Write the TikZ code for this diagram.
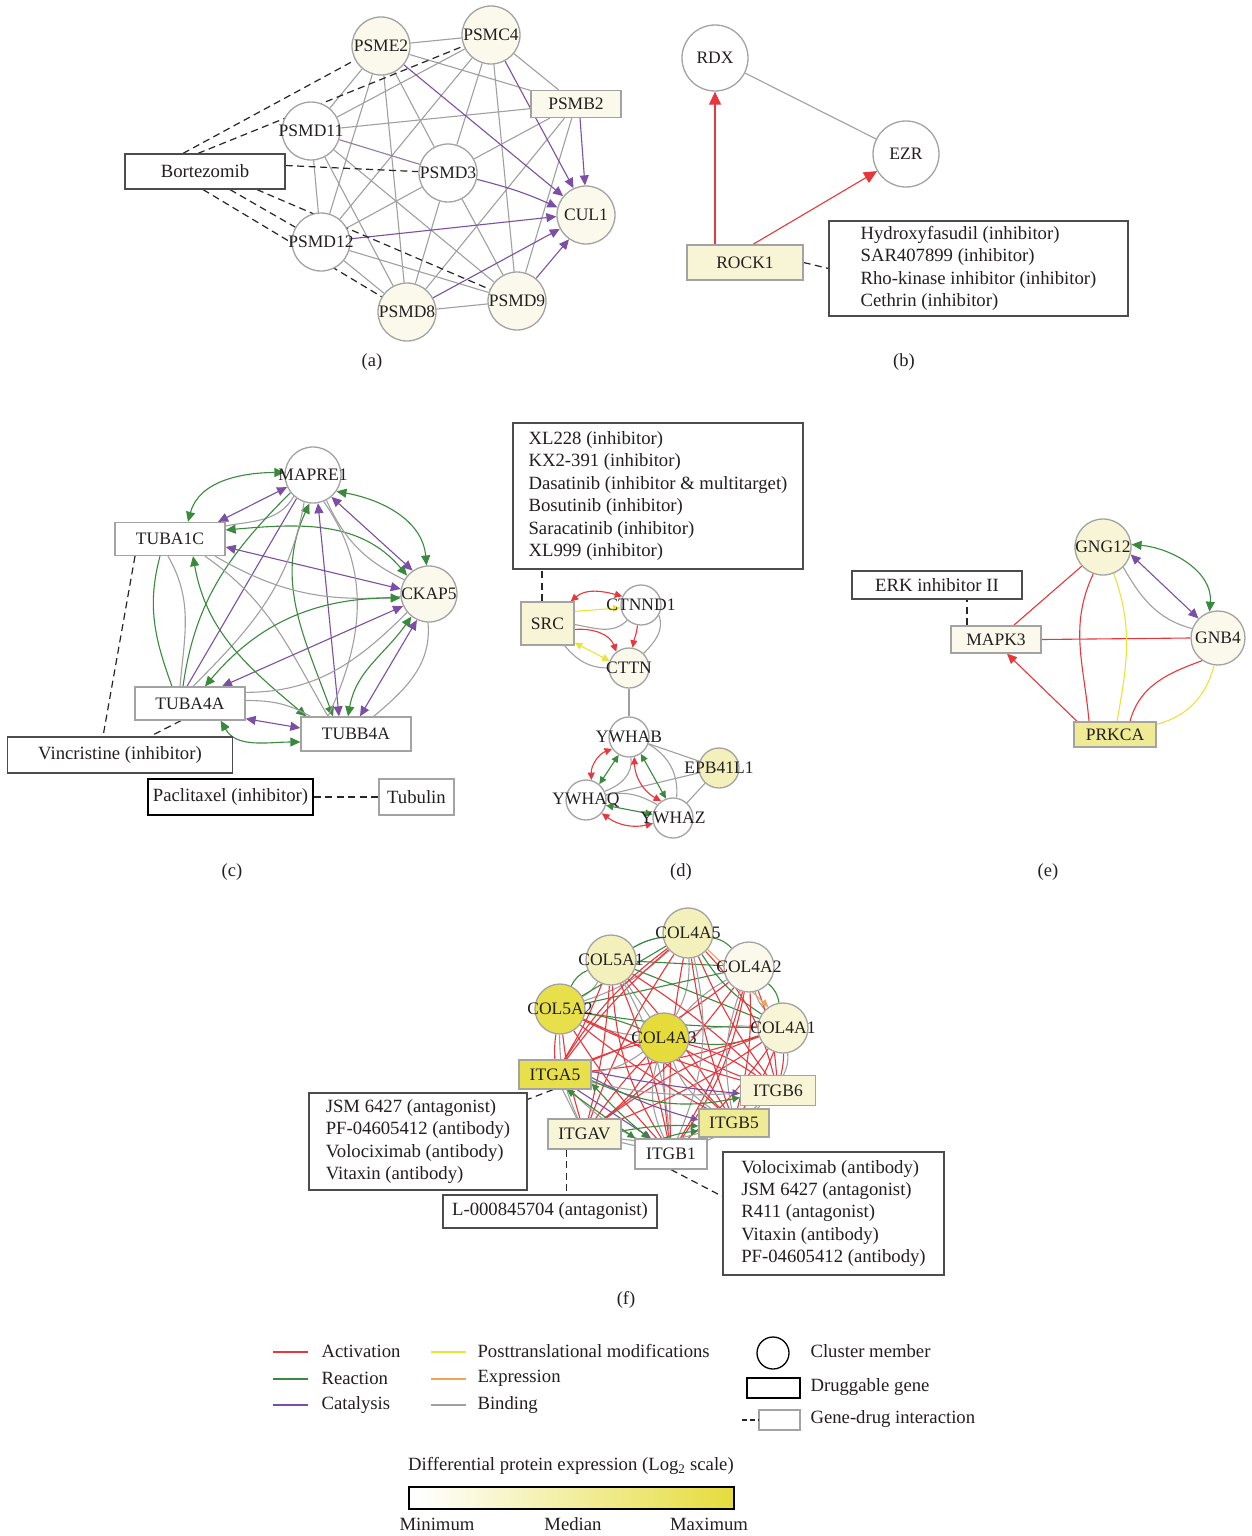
\documentclass[tikz,border=0pt]{standalone}
\usepackage{fontspec}
\setmainfont{Liberation Serif}
\usetikzlibrary{arrows.meta,backgrounds}
\pgfdeclarelayer{bgfill}
\pgfsetlayers{bgfill,background,main}
\definecolor{cAct}{HTML}{E8373C}
\definecolor{cRea}{HTML}{3A8A3E}
\definecolor{cCat}{HTML}{7B4FA3}
\definecolor{cPtm}{HTML}{EDE23A}
\definecolor{cExp}{HTML}{F3A25C}
\definecolor{cBind}{HTML}{A0A0A0}
\definecolor{cLine}{HTML}{A3A3A3}
\definecolor{cTxt}{HTML}{231F20}
\definecolor{fA}{HTML}{FAF9EB}
\definecolor{fB}{HTML}{F7F5D6}
\definecolor{fC}{HTML}{F4F0BC}
\definecolor{fD}{HTML}{EFEA94}
\definecolor{fE}{HTML}{E8E04B}
\definecolor{fF}{HTML}{E5DC3C}
\tikzset{
  every node/.style={font=\fontsize{17.5}{22.4}\selectfont, text=cTxt},
  cm/.style={circle, draw=cLine, line width=1.3pt, fill=white, minimum size=#1, inner sep=0pt},
  cm/.default=58pt,
  gbox/.style={rectangle, draw=cLine, line width=1.3pt, fill=white, inner sep=0pt},
  dbox/.style={rectangle, draw=black!70, line width=1.2pt, fill=white, inner sep=0pt, align=left, font=\fontsize{18.7}{22.4}\selectfont},
  ebase/.style={line width=1.1pt},
  bind/.style={ebase, draw=cBind},
  act/.style={ebase, draw=cAct},
  rea/.style={ebase, draw=cRea},
  cat/.style={ebase, draw=cCat},
  ptm/.style={ebase, draw=cPtm},
  expr/.style={ebase, draw=cExp},
  drugline/.style={draw=black!85, line width=1.2pt, dash pattern=on 7pt off 4.5pt},
  tipbig/.style={>={Triangle[length=13pt,width=12pt]}},
  tipmid/.style={>={Triangle[length=10pt,width=9pt]}},
  tipsmall/.style={>={Triangle[length=7.5pt,width=7pt]}},
  plabel/.style={font=\fontsize{18.5}{22}\selectfont},
  legtxt/.style={anchor=west, font=\fontsize{18.7}{22}\selectfont},
}
\begin{document}
\begin{tikzpicture}[x=1pt,y=-1pt]
\begin{pgfonlayer}{bgfill}
\fill[white] (0,0) rectangle (1251,1536);
\end{pgfonlayer}
\useasboundingbox (0,0) rectangle (1251,1536);

%% ================= (a) =================
\node[cm, fill=fA, label={center:PSME2}] (psme2) at (381,46) {};
\node[cm, fill=fA, label={center:PSMC4}] (psmc4) at (491,35) {};
\node[gbox, fill=fA, minimum width=90pt, minimum height=27pt] (psmb2) at (576,104) {PSMB2};
\node[cm, label={center:PSMD11}] (psmd11) at (311,131) {};
\node[cm, label={center:PSMD3}] (psmd3) at (448,173) {};
\node[cm, fill=fA, label={center:CUL1}] (cul1) at (586,215) {};
\node[cm, label={center:PSMD12}] (psmd12) at (321,242) {};
\node[cm, fill=fA, label={center:PSMD8}] (psmd8) at (407,312) {};
\node[cm, fill=fA, label={center:PSMD9}] (psmd9) at (517,301) {};
\node[dbox, minimum width=160pt, minimum height=35pt] (bort) at (205,171.5) {Bortezomib};
\node[plabel] (la) at (372,362) {(a)};

\begin{scope}[on background layer]
\foreach \u/\v in {psme2/psmc4, psme2/psmb2, psme2/psmd11, psme2/psmd12, psme2/psmd8, psme2/psmd3,
  psmc4/psmb2, psmc4/psmd11, psmc4/psmd3, psmc4/psmd12, psmc4/psmd9,
  psmb2/psmd11, psmb2/psmd3, psmb2/psmd8, psmb2/psmd9,
  psmd11/psmd12, psmd11/psmd8, psmd11/psmd9,
  psmd3/psmd12, psmd3/psmd8, psmd3/psmd9,
  psmd12/psmd8, psmd12/psmd9, psmd8/psmd9}
  \draw[bind] (\u) -- (\v);
\draw[ebase, draw=cCat!45!cBind] (psmd11) -- (psmd3);
\begin{scope}[tipmid]
\draw[cat,->] (psme2) -- (cul1);
\draw[cat,->] (psmc4) -- (cul1.115);
\draw[cat,->] ([xshift=4pt]psmb2.south) -- (cul1.92);
\draw[cat,->] (psmd3) to[bend left=5] (cul1.165);
\draw[cat,->] (psmd12) -- (cul1.183);
\draw[cat,->] (psmd8) -- (cul1.208);
\draw[cat,->] (psmd9) -- (cul1.235);
\end{scope}
\draw[drugline] ([xshift=-22pt]bort.north) -- (psme2);
\draw[drugline] ([xshift=-7pt]bort.north) -- (psmc4);
\draw[drugline] ([yshift=6pt]bort.east) -- (psmd3);
\draw[drugline] ([xshift=-2pt]bort.south) -- (psmd8);
\draw[drugline] ([xshift=25pt]bort.south) -- (psmd12);
\draw[drugline] ([xshift=52pt]bort.south) -- (psmd9);
\end{scope}

%% ================= (b) =================
\node[cm=66pt, label={center:RDX}] (rdx) at (715,58) {};
\node[cm=66pt, label={center:EZR}] (ezr) at (906,154) {};
\node[gbox, fill=fB, minimum width=116pt, minimum height=35pt] (rock1) at (745,262.5) {ROCK1};
\node[dbox, minimum width=299pt, minimum height=95pt] (bdrug) at (978.5,268.5)
  {Hydroxyfasudil (inhibitor)\\SAR407899 (inhibitor)\\Rho-kinase inhibitor (inhibitor)\\Cethrin (inhibitor)};
\node[plabel] (lb) at (904,362) {(b)};
\begin{scope}[on background layer]
\draw[bind] (rdx) -- (ezr);
\draw[act,->,tipbig] ([xshift=-30pt]rock1.north) -- (rdx);
\draw[act,->,tipbig] ([xshift=8pt]rock1.north) -- (ezr);
\draw[drugline] (rock1.east) -- (bdrug.west);
\end{scope}

%% ================= (c) =================
\node[cm=56pt, label={center:MAPRE1}] (mapre) at (313,475) {};
\node[gbox, minimum width=110pt, minimum height=33pt] (tuba1c) at (170,539) {TUBA1C};
\node[cm=56pt, fill=fA, label={center:CKAP5}] (ckap5) at (429,594) {};
\node[gbox, minimum width=110pt, minimum height=33pt] (tuba4a) at (190,703.5) {TUBA4A};
\node[gbox, minimum width=110pt, minimum height=34pt] (tubb4a) at (356,734) {TUBB4A};
\node[dbox, minimum width=225pt, minimum height=36pt] (vinc) at (120,755) {Vincristine (inhibitor)};
\node[dbox, draw=black, line width=1.5pt, minimum width=165pt, minimum height=36pt] (pacl) at (230.5,797) {Paclitaxel (inhibitor)};
\node[gbox, minimum width=75pt, minimum height=36pt, font=\fontsize{18.7}{22}\selectfont] (tubl) at (416.5,797) {Tubulin};
\node[plabel] (lc) at (232,872) {(c)};
\begin{scope}[on background layer, tipmid]
\draw[rea,<->] ([xshift=18pt]tuba1c.north) to[out=75,in=180] (mapre.175);
\draw[cat,<->] ([xshift=48pt]tuba1c.north) -- (mapre.205);
\draw[bind] ([yshift=-4pt]tuba1c.north east) to[out=10,in=240] (mapre.228);
\draw[rea,<->] ([yshift=9pt]tuba1c.east) to[out=5,in=130] (ckap5.140);
\draw[cat,<->] ([yshift=-8pt]tuba1c.east) -- (ckap5.170);
\draw[rea,<->] (mapre.-35) to[out=-10,in=95] (ckap5.95);
\draw[cat,<->] (mapre.-50) -- (ckap5.125);
\draw[bind] (mapre.-62) to[bend right=20] (ckap5.150);
\draw[rea,<->] (mapre.-97) to[out=-115,in=110] ([xshift=-23pt]tubb4a.north);
\draw[cat,<->] (mapre.-80) -- ([xshift=-17pt]tubb4a.north);
\draw[bind] (mapre.-68) to[out=-55,in=65] ([xshift=-28pt]tubb4a.north);
\draw[cat] (mapre.235) -- ([xshift=-3pt]tuba4a.north);
\draw[rea] ([xshift=-7pt]tuba4a.north) to[out=82,in=225] (mapre.218);
\draw[bind] ([xshift=3pt]tuba4a.north) to[out=45,in=260] (mapre.252);
\draw[rea] ([xshift=-10pt]tuba1c.south) to[out=-105,in=110] ([xshift=-18pt]tuba4a.north);
\draw[bind] ([xshift=-2pt]tuba1c.south) to[out=-60,in=85] ([xshift=-10pt]tuba4a.north);
\draw[rea,<->] ([xshift=23pt]tuba1c.south) to[out=-80,in=140] ([xshift=6pt]tubb4a.north west);
\draw[bind] ([xshift=35pt]tuba1c.south) to[out=-35,in=120] ([xshift=-28pt]tubb4a.north);
\draw[bind] ([xshift=45pt]tuba1c.south) to[out=-30,in=185] (ckap5.185);
\draw[rea,<->] ([xshift=15pt]tuba4a.north) to[out=50,in=180] (ckap5.188);
\draw[cat,<->] ([xshift=32pt]tuba4a.north) -- (ckap5.205);
\draw[bind] ([yshift=-6pt]tuba4a.north east) to[out=0,in=225] (ckap5.220);
\draw[bind] ([yshift=3pt]tuba4a.east) to[out=0,in=150] ([xshift=10pt]tubb4a.north west);
\draw[cat,<->] ([yshift=2pt]tuba4a.south east) -- ([yshift=6pt]tubb4a.west);
\draw[rea,<->] ([xshift=-25pt]tuba4a.south east) to[out=-60,in=180] ([yshift=-8pt]tubb4a.west);
\draw[rea,<->] (ckap5.232) to[out=235,in=80] ([xshift=-8pt]tubb4a.north);
\draw[cat,<->] (ckap5.245) -- ([xshift=4pt]tubb4a.north);
\draw[bind] (ckap5.268) to[out=-85,in=40] ([xshift=-38pt]tubb4a.north east);
\draw[drugline] ([xshift=-35pt]tuba1c.south) -- ([xshift=-17pt]vinc.north);
\draw[drugline] ([xshift=-9pt]tuba4a.south) -- ([xshift=30pt]vinc.north);
\draw[drugline] (pacl.east) -- (tubl.west);
\end{scope}

%% ================= (d) =================
\node[dbox, minimum width=290pt, minimum height=146pt] (ddrug) at (658,496)
  {XL228 (inhibitor)\\KX2-391 (inhibitor)\\Dasatinib (inhibitor \& multitarget)\\Bosutinib (inhibitor)\\Saracatinib (inhibitor)\\XL999 (inhibitor)};
\node[gbox, fill=fB, minimum width=53pt, minimum height=43pt] (src) at (547.5,623.5) {SRC};
\node[cm=40pt, label={center:CTNND1}] (ctnnd1) at (641,605) {};
\node[cm=40pt, fill=fA, label={center:CTTN}] (cttn) at (629,668) {};
\node[cm=40pt, label={center:YWHAB}] (ywhab) at (629,737) {};
\node[cm=40pt, fill=fC, label={center:EPB41L1}] (epb) at (719,768) {};
\node[cm=40pt, label={center:YWHAQ}] (ywhaq) at (586,800) {};
\node[cm=40pt, label={center:YWHAZ}] (ywhaz) at (673,818) {};
\node[plabel] (ld) at (681,872) {(d)};
\begin{scope}[on background layer, tipsmall]
\draw[drugline] ([xshift=-5.5pt]src.north) -- ([xshift=-5.5pt]src.north |- ddrug.south);
\draw[act,<->] ([xshift=-4pt]src.north east) to[out=40,in=165] (ctnnd1.155);
\draw[ptm,->] ([yshift=-10pt]src.north east) -- (ctnnd1.188);
\draw[bind] ([yshift=-1pt]src.east) to[out=-10,in=225] (ctnnd1.228);
\draw[act,->] ([yshift=-6pt]src.east) to[out=5,in=110] (cttn.128);
\draw[ptm,<->] ([yshift=3pt]src.south east) -- (cttn.160);
\draw[bind] ([xshift=-10pt]src.south east) to[out=-50,in=180] (cttn.180);
\draw[act,->] (ctnnd1.-100) to[out=-95,in=80] (cttn.80);
\draw[bind] (ctnnd1.-30) to[out=-70,in=45] (cttn.45);
\draw[bind] (cttn) -- (ywhab);
\draw[bind] (ywhab) -- (epb);
\draw[bind] (ywhaq) -- (epb);
\draw[bind] (epb) -- (ywhaz);
\draw[act,<->] (ywhab.215) to[bend right=35] (ywhaq.75);
\draw[rea,<->] (ywhab.240) -- (ywhaq.50);
\draw[bind] (ywhab.275) to[out=-80,in=20] (ywhaq.25);
\draw[act,<->] (ywhab.285) to[bend right=30] (ywhaz.125);
\draw[rea,<->] (ywhab.305) -- (ywhaz.110);
\draw[bind] (ywhab.-20) to[out=-30,in=85] (ywhaz.80);
\draw[rea,<->] (ywhaq.-15) -- (ywhaz.170);
\draw[act,<->] (ywhaq.-40) to[bend right=25] (ywhaz.195);
\draw[bind] (ywhaq.15) to[out=10,in=150] (ywhaz.140);
\end{scope}

%% ================= (e) =================
\node[dbox, minimum width=170pt, minimum height=28pt] (erk) at (937,585) {ERK inhibitor II};
\node[gbox, fill=fA, minimum width=90pt, minimum height=27pt] (mapk3) at (996,639.5) {MAPK3};
\node[cm=56pt, fill=fB, label={center:GNG12}] (gng12) at (1103,547) {};
\node[cm=54pt, fill=fA, label={center:GNB4}] (gnb4) at (1218,638) {};
\node[gbox, fill=fD, minimum width=82pt, minimum height=25pt] (prkca) at (1115,734.5) {PRKCA};
\node[plabel] (le) at (1048,872) {(e)};
\begin{scope}[on background layer, tipmid]
\draw[drugline] ([xshift=-29pt]mapk3.north) -- ([xshift=-29pt]mapk3.north |- erk.south);
\draw[act] (gng12.222) -- ([xshift=-28pt]mapk3.north east);
\draw[act] (mapk3.east) -- (gnb4.west);
\draw[act,->] ([xshift=-38pt]prkca.north) -- ([xshift=11pt]mapk3.south);
\draw[act] (gng12.250) to[out=-115,in=95] ([xshift=-26pt]prkca.north);
\draw[ptm] (gng12.292) to[out=-70,in=80] ([xshift=2pt]prkca.north);
\draw[act] (gnb4.235) to[out=200,in=75] ([xshift=15pt]prkca.north);
\draw[ptm] (gnb4.262) to[out=-105,in=15] ([yshift=-3pt]prkca.north east);
\draw[rea,<->] (gng12.5) to[out=-5,in=85] (gnb4.108);
\draw[cat,<->] (gng12.-15) -- (gnb4.135);
\draw[bind] (gng12.-45) to[out=-60,in=165] (gnb4.160);
\end{scope}

%% ================= (f) =================
\node[cm=50pt, fill=fC, label={center:COL5A1}] (c51) at (611,960) {};
\node[cm=50pt, fill=fC, label={center:COL4A5}] (c45) at (688,933) {};
\node[cm=50pt, fill=fA, label={center:COL4A2}] (c42) at (749,967) {};
\node[cm=50pt, fill=fE, label={center:COL5A2}] (c52) at (560,1009) {};
\node[cm=50pt, fill=fB, label={center:COL4A1}] (c41) at (783,1028) {};
\node[cm=50pt, fill=fF, label={center:COL4A3}] (c43) at (664,1038) {};
\node[gbox, fill=fE, minimum width=72pt, minimum height=29pt] (a5) at (555,1074.5) {ITGA5};
\node[gbox, fill=fB, minimum width=75pt, minimum height=30pt] (b6) at (778,1090.5) {ITGB6};
\node[gbox, fill=fD, minimum width=70pt, minimum height=28pt] (b5) at (734,1123) {ITGB5};
\node[gbox, fill=fB, minimum width=73pt, minimum height=30pt] (av) at (584.5,1134) {ITGAV};
\node[gbox, minimum width=72pt, minimum height=30pt] (b1) at (671,1154) {ITGB1};
\node[dbox, minimum width=218pt, minimum height=97pt] (fleft) at (418,1141.5)
  {JSM 6427 (antagonist)\\PF-04605412 (antibody)\\Volociximab (antibody)\\Vitaxin (antibody)};
\node[dbox, minimum width=214pt, minimum height=33pt] (lbox) at (550,1211.5) {L-000845704 (antagonist)};
\node[dbox, minimum width=221pt, minimum height=123pt] (fright) at (833.5,1213.5)
  {Volociximab (antibody)\\JSM 6427 (antagonist)\\R411 (antagonist)\\Vitaxin (antibody)\\PF-04605412 (antibody)};
\node[plabel] (lf) at (626,1300) {(f)};
\begin{scope}[on background layer, tipsmall]
\foreach \u/\v/\b in {c51/c45/10, c51/c43/0, c45/c43/15, c42/c43/-10, c52/c51/-15, c45/c52/12, c42/c41/-15, c43/c41/8, c52/c43/-10}
  \draw[bind] (\u) to[bend left=\b] (\v);
\foreach \u/\v/\b in {c51/c42/0, c51/c41/0, c52/c45/0, c52/c42/0, c52/c41/-4, c45/c41/-12, c43/c41/-14, c52/c51/20, c45/c42/18, c42/c41/20, c52/c43/6, c45/c51/-10}
  \draw[rea] (\u) to[bend left=\b] (\v);
\foreach \c/\bb in {c51/5, c45/-6, c42/8, c52/-5, c41/6, c43/-4}
  \foreach \i in {a5, b6, b5, av, b1}
    \draw[act] (\c) to[bend left=\bb] (\i);
\foreach \u/\v/\b in {c45/a5/-10, c42/b1/12, c51/b1/-14, c52/b5/10, c41/av/-8, c43/b6/10, c45/b6/14, c43/av/12}
  \draw[act] (\u) to[bend left=\b] (\v);
\foreach \u/\v/\b in {c43/a5/15, c43/b1/-20, c45/b1/18, c51/b1/12, c41/b6/15, c42/b5/-15, c52/av/-12, c43/b5/-18}
  \draw[bind] (\u) to[bend left=\b] (\v);
\foreach \u/\v/\b in {a5/av/0, a5/b1/-10, av/b1/0, av/b5/-12, b1/b5/0, b1/b6/-10, b5/b6/0, a5/b6/-8}
  \draw[bind] (\u) to[bend left=\b] (\v);
\draw[expr,->] (c45.-40) -- (c41.125);
\draw[cat,->] ([yshift=3pt]a5.east) to[bend right=3] ([yshift=-3pt]b6.west);
\draw[cat,->] ([yshift=-3pt]a5.east) to[bend right=6] ([yshift=3pt]b5.west);
\draw[cat,->] ([xshift=22pt]a5.south) -- ([xshift=-20pt]b1.north);
\draw[rea,<->] ([xshift=12pt]a5.south) -- ([xshift=-36pt]b1.north);
\draw[rea,<->] ([yshift=-9pt]a5.east) to[bend right=4] ([xshift=-22pt]b1.north);
\draw[rea,->] ([yshift=-6pt]a5.east) to[bend right=18] ([yshift=-7pt]b6.west);
\draw[rea,->] ([yshift=3pt]av.east) to[bend left=6] ([yshift=-3pt]b5.west);
\draw[rea,->] ([xshift=-8pt]b1.north) to[bend left=6] ([yshift=-8pt]b5.west);
\draw[drugline] ([xshift=-2pt]a5.south) -- ([yshift=-7pt]fleft.north east);
\draw[drugline] ([xshift=-18pt]av.south) -- ([xshift=-18pt]av.south |- lbox.north);
\draw[drugline] (b1.south) -- ([yshift=-45pt]fright.north west);
\end{scope}

%% ================= legend =================
\draw[act] (273,1352) -- (308,1352);
\draw[rea] (273,1379) -- (308,1379);
\draw[cat] (273,1405) -- (308,1405);
\draw[ptm] (431,1352) -- (466,1352);
\draw[expr] (431,1379) -- (466,1379);
\draw[bind] (431,1405) -- (466,1405);
\node[legtxt] (t1) at (318,1351) {Activation};
\node[legtxt] (t2) at (318,1378) {Reaction};
\node[legtxt] (t3) at (318,1405) {Catalysis};
\node[legtxt] (t4) at (474,1351) {Posttranslational modifications};
\node[legtxt] (t5) at (474,1378) {Expression};
\node[legtxt] (t6) at (474,1405) {Binding};
\node[circle, draw=black, line width=1.3pt, minimum size=32pt, inner sep=0pt] (lgc) at (773,1353) {};
\node[rectangle, draw=black, line width=1.3pt, minimum width=53pt, minimum height=20pt, inner sep=0pt] (lgr) at (773.5,1388) {};
\node[rectangle, draw=cLine, line width=1.3pt, minimum width=41pt, minimum height=20pt, inner sep=0pt] (lgd) at (779.5,1420) {};
\coordinate (lgdl) at (742,1420);
\draw[drugline, dash pattern=on 5pt off 3pt] (lgdl) -- (lgd.west);
\node[legtxt] (t7) at (807,1351) {Cluster member};
\node[legtxt] (t8) at (807,1387) {Druggable gene};
\node[legtxt] (t9) at (807,1419) {Gene-drug interaction};
\node[font=\fontsize{18.7}{22}\selectfont] (cbt) at (571,1466) {Differential protein expression (Log\textsubscript{2} scale)};
\shade[left color=white, right color=fF] (418,1487) rectangle (734,1509);
\fill[white] (409,1487) rectangle (419,1509);
\node[draw=black, line width=1.2pt, minimum width=325pt, minimum height=22pt, inner sep=0pt] (cbar) at (571.5,1498) {};
\node[font=\fontsize{18.7}{22}\selectfont] (cmin) at (437,1524) {Minimum};
\node[font=\fontsize{18.7}{22}\selectfont] (cmed) at (573,1524) {Median};
\node[font=\fontsize{18.7}{22}\selectfont] (cmax) at (709,1524) {Maximum};
\end{tikzpicture}
\end{document}
